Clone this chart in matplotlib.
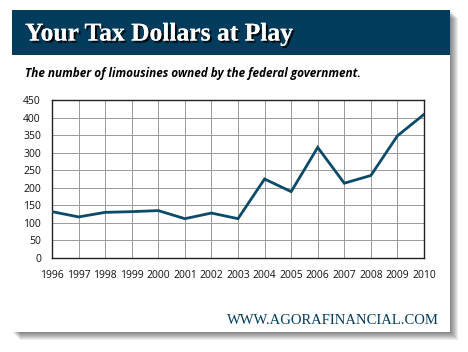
import matplotlib
matplotlib.use("Agg")
import matplotlib.pyplot as plt
from matplotlib.patches import Rectangle
import matplotlib.patheffects as pe

years = [1996, 1997, 1998, 1999, 2000, 2001, 2002, 2003, 2004, 2005, 2006, 2007, 2008, 2009, 2010]
limousines = [132, 117, 130, 132, 135, 112, 128, 112, 225, 189, 315, 213, 235, 348, 409]
y_ticks = [0, 50, 100, 150, 200, 250, 300, 350, 400, 450]

W, H = 468, 352
fig = plt.figure(figsize=(W / 100, H / 100), dpi=100)
fig.patch.set_facecolor("white")

def fx(x):
    return x / W

def fy(y):
    return 1 - y / H

# card shadow
for i in range(1, 9):
    fig.patches.append(Rectangle((fx(12 + i), fy(332 + i)), fx(438), 322 / H,
                                 transform=fig.transFigure, facecolor="black",
                                 alpha=0.07, edgecolor="none", zorder=0))
# card
fig.patches.append(Rectangle((fx(12), fy(332)), fx(438), 322 / H,
                             transform=fig.transFigure, facecolor="white",
                             edgecolor="none", zorder=1))
# header band
navy = "#023c5c"
fig.patches.append(Rectangle((fx(12), fy(55)), fx(438), 45 / H,
                             transform=fig.transFigure, facecolor=navy,
                             edgecolor="none", zorder=2))

fig.text(fx(25), fy(34), "Your Tax Dollars at Play", color="white",
         fontsize=18.4, fontweight="bold", family="Liberation Serif",
         va="center", ha="left", zorder=3,
         path_effects=[pe.withSimplePatchShadow(offset=(1.5, -1.5), shadow_rgbFace="black", alpha=0.9), pe.Normal()])

fig.text(fx(25), fy(73), "The number of limousines owned by the federal government.",
         color="black", fontsize=8.5, fontweight="bold", style="italic",
         family="Open Sans", va="center", ha="left", zorder=3)

fig.text(fx(439), fy(321), "WWW.AGORAFINANCIAL.COM", color=navy,
         fontsize=10.5, family="Liberation Serif", va="center", ha="right", zorder=3)

ax = fig.add_axes([fx(52), fy(258), fx(424 - 52), (258 - 100) / H], zorder=4)
ax.set_facecolor("white")
ax.plot(years, limousines, color="#0b4a68", linewidth=2.0, solid_joinstyle="miter", zorder=3)
ax.set_xlim(1996, 2010)
ax.set_ylim(0, 450)
ax.set_xticks(years)
ax.set_xticklabels([str(y) for y in years])
ax.set_yticks(y_ticks)
ax.grid(True, color="#9a9a9a", linewidth=0.7)
ax.tick_params(length=0, labelsize=7.5, colors="#111111")
ax.tick_params(axis="x", pad=9)
ax.tick_params(axis="y", pad=8)
for lab in ax.get_xticklabels() + ax.get_yticklabels():
    lab.set_family("Open Sans")
for s in ax.spines.values():
    s.set_color("#222222")
    s.set_linewidth(1.0)

fig.savefig("out.png", dpi=100, facecolor="white")
